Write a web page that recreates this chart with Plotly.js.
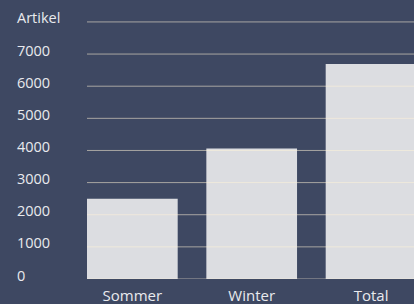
<!DOCTYPE html>
<html><head><meta charset="utf-8">
<script src="https://cdn.plot.ly/plotly-3.0.1.min.js"></script>
<style>html,body{margin:0;padding:0;background:#3e4862;}</style>
</head><body><div id="chart" style="width:414px;height:304px;"></div>
<script>
const categories = ["Sommer", "Winter", "Total"];
const values = [2500, 4060, 6690];
const tickValues = [0, 1000, 2000, 3000, 4000, 5000, 6000, 7000, 8000];
const tickLabels = ["0", "1000", "2000", "3000", "4000", "5000", "6000", "7000", "Artikel"];

const textColor = "#e9eaee";
const fam = "Open Sans, Noto Sans, sans-serif";
const font = {family: fam, size: 14.5, color: textColor};
const gridColor = "rgba(255,242,215,0.55)";

const annotations = tickValues.map((v, i) => ({
  xref: "paper", yref: "y", x: 0, y: v, xshift: -72,
  xanchor: "left", yanchor: "middle", yshift: 4,
  text: tickLabels[i], showarrow: false, font: font
}));

const shapes = tickValues.map(v => ({
  type: "line", xref: "paper", yref: "y", x0: 0, x1: 1, y0: v, y1: v,
  layer: "above", line: {color: gridColor, width: 1}
}));

Plotly.newPlot("chart", [{
  type: "bar", x: categories, y: values,
  marker: {color: "#dcdde1", line: {width: 0}},
  hoverinfo: "none"
}], {
  width: 414, height: 304,
  margin: {l: 87, r: 0, t: 20, b: 25, pad: 0},
  paper_bgcolor: "#3e4862", plot_bgcolor: "#3e4862",
  bargap: 0.24,
  showlegend: false,
  font: font,
  xaxis: {range: [-0.38, 2.36], showgrid: false, zeroline: false, showline: false,
          ticks: "", ticklabelstandoff: 6,
          tickfont: {family: fam, size: 15, color: textColor},
          automargin: false, fixedrange: true},
  yaxis: {range: [0, 8060], showticklabels: false, showgrid: false, zeroline: false,
          automargin: false, fixedrange: true},
  shapes: shapes,
  annotations: annotations
}, {displayModeBar: false, staticPlot: true});
</script></body></html>
